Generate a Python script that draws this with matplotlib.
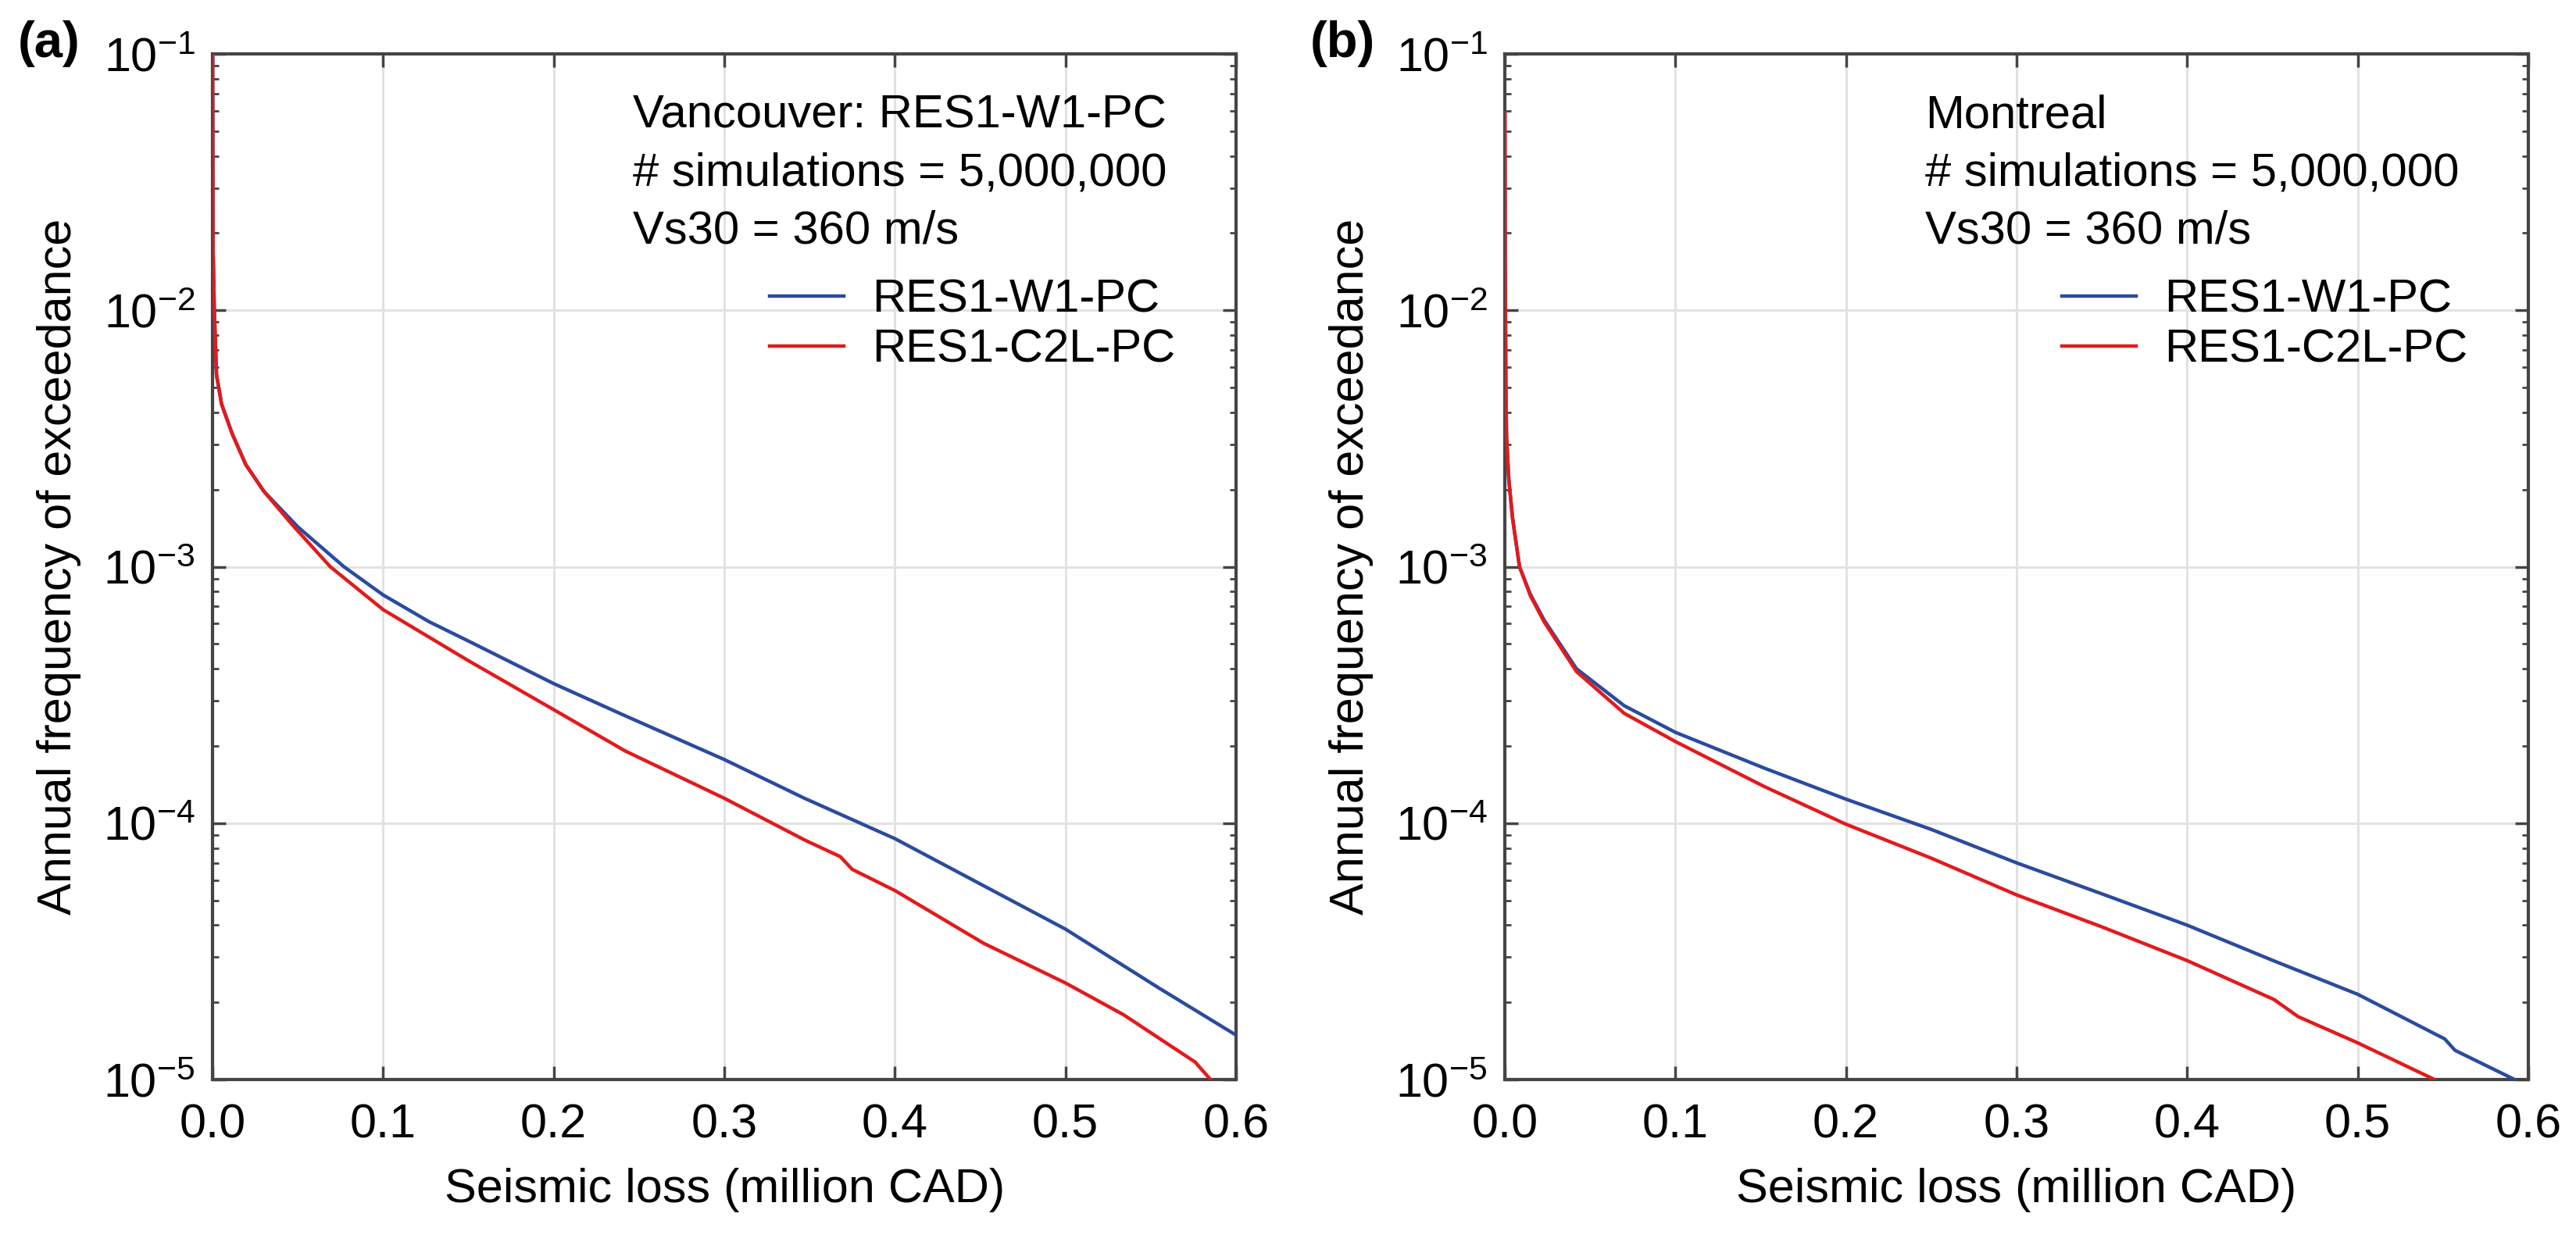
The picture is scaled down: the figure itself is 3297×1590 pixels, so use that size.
import numpy as np
import matplotlib
matplotlib.use("Agg")
import matplotlib.pyplot as plt

plt.rcParams['font.family'] = ['Liberation Sans', 'DejaVu Sans']
plt.rcParams['mathtext.fontset'] = 'custom'
plt.rcParams['mathtext.rm'] = 'Liberation Sans'
plt.rcParams['mathtext.it'] = 'Liberation Sans:italic'
plt.rcParams['mathtext.bf'] = 'Liberation Sans:bold'

# (a) Vancouver
van_w1_x = [0.0, 0.0003, 0.001, 0.0023, 0.0053, 0.0115, 0.0195, 0.030, 0.05, 0.077, 0.1, 0.127,
            0.15, 0.2, 0.242, 0.3, 0.347, 0.4, 0.452, 0.5, 0.555, 0.6]
van_w1_y = [1.0e-1, 1.7e-2, 1.0e-2, 5.6e-3, 4.3e-3, 3.3e-3, 2.5e-3, 1.97e-3, 1.43e-3, 1.0e-3, 7.76e-4, 6.1e-4,
            5.13e-4, 3.5e-4, 2.62e-4, 1.77e-4, 1.25e-4, 8.7e-5, 5.7e-5, 3.86e-5, 2.27e-5, 1.49e-5]
van_c2l_x = [0.0, 0.0003, 0.001, 0.0023, 0.0053, 0.0115, 0.0195, 0.030, 0.047, 0.069, 0.1, 0.15,
             0.2, 0.242, 0.3, 0.347, 0.368, 0.375, 0.4, 0.452, 0.5, 0.534, 0.576, 0.585]
van_c2l_y = [1.0e-1, 1.7e-2, 1.0e-2, 5.6e-3, 4.3e-3, 3.3e-3, 2.5e-3, 1.97e-3, 1.45e-3, 1.0e-3, 6.8e-4, 4.3e-4,
             2.77e-4, 1.91e-4, 1.25e-4, 8.6e-5, 7.4e-5, 6.6e-5, 5.46e-5, 3.4e-5, 2.38e-5, 1.79e-5, 1.17e-5, 1.0e-5]

# (b) Montreal
mtl_w1_x = [0.0, 0.0002, 0.0006, 0.001, 0.0023, 0.0045, 0.0086, 0.015, 0.023, 0.042, 0.07, 0.1,
            0.152, 0.2, 0.25, 0.3, 0.35, 0.4, 0.451, 0.5, 0.551, 0.557, 0.592]
mtl_w1_y = [5.9e-2, 1.5e-2, 5.0e-3, 3.2e-3, 2.2e-3, 1.55e-3, 1.0e-3, 7.8e-4, 6.2e-4, 4.0e-4, 2.87e-4, 2.26e-4,
            1.64e-4, 1.24e-4, 9.45e-5, 7.0e-5, 5.3e-5, 4.0e-5, 2.9e-5, 2.15e-5, 1.44e-5, 1.3e-5, 1.0e-5]
mtl_c2l_x = [0.0, 0.0002, 0.0006, 0.001, 0.0023, 0.0045, 0.0086, 0.015, 0.023, 0.042, 0.07, 0.1,
             0.152, 0.2, 0.25, 0.3, 0.35, 0.4, 0.451, 0.465, 0.5, 0.545]
mtl_c2l_y = [5.9e-2, 1.5e-2, 5.0e-3, 3.2e-3, 2.2e-3, 1.55e-3, 1.0e-3, 7.7e-4, 6.1e-4, 3.9e-4, 2.68e-4, 2.08e-4,
             1.39e-4, 9.9e-5, 7.3e-5, 5.25e-5, 3.94e-5, 2.91e-5, 2.05e-5, 1.76e-5, 1.39e-5, 1.0e-5]

series_labels = ['RES1-W1-PC', 'RES1-C2L-PC']
notes_a = ['Vancouver: RES1-W1-PC', '# simulations = 5,000,000', 'Vs30 = 360 m/s']
notes_b = ['Montreal', '# simulations = 5,000,000', 'Vs30 = 360 m/s']
xticks = [0.0, 0.1, 0.2, 0.3, 0.4, 0.5, 0.6]

blue = '#2b4b9e'
red = '#e31a1c'
spine_col = '#444444'

fig = plt.figure(figsize=(32.98, 15.9), dpi=100)
ax_a = fig.add_axes([0.0825, 0.1308, 0.3972, 0.8258])
ax_b = fig.add_axes([0.5840, 0.1308, 0.3972, 0.8258])

panels = [
    (ax_a, van_w1_x, van_w1_y, van_c2l_x, van_c2l_y, notes_a, '(a)'),
    (ax_b, mtl_w1_x, mtl_w1_y, mtl_c2l_x, mtl_c2l_y, notes_b, '(b)'),
]

for ax, wx, wy, cx, cy, notes, tag in panels:
    ax.plot(wx, wy, color=blue, lw=3.2, label=series_labels[0], zorder=3)
    ax.plot(cx, cy, color=red, lw=3.2, label=series_labels[1], zorder=4)
    ax.set_yscale('log')
    ax.set_xlim(0, 0.6)
    ax.set_ylim(1e-5, 1e-1)
    ax.set_xticks(xticks)
    ax.set_xticklabels(['%.1f' % t for t in xticks])
    ax.grid(True, which='major', color='#e2e2e2', lw=2.2, zorder=0)
    ax.tick_params(which='major', direction='in', length=12, width=2.5, color=spine_col,
                   top=True, right=True, labelsize=44)
    ax.tick_params(axis='x', pad=22)
    ax.tick_params(axis='y', pad=16)
    ax.tick_params(which='minor', direction='in', length=6, width=2.0, color=spine_col,
                   top=False, right=True)
    ax.tick_params(axis='x', which='minor', bottom=False, top=False)
    for s in ax.spines.values():
        s.set_color(spine_col)
        s.set_linewidth(3.0)
    ax.set_xlabel('Seismic loss (million CAD)', fontsize=44, labelpad=18)
    ax.set_ylabel('Annual frequency of exceedance', fontsize=44, labelpad=20)

    for i, line in enumerate(notes):
        ax.text(0.411, 0.940 - i * 0.0565, line, transform=ax.transAxes,
                fontsize=43, va='center', ha='left')
    ax.legend(loc='upper left', bbox_to_anchor=(0.544, 0.781), frameon=False,
              fontsize=43, handlelength=1.6, handletextpad=0.6, labelspacing=0.15,
              borderpad=0, borderaxespad=0)

    pos = ax.get_position()
    fig.text(pos.x0 - 0.0755, 0.965, tag, fontsize=47, fontweight='bold',
             va='center', ha='left')

fig.savefig('out.png', dpi=100)
